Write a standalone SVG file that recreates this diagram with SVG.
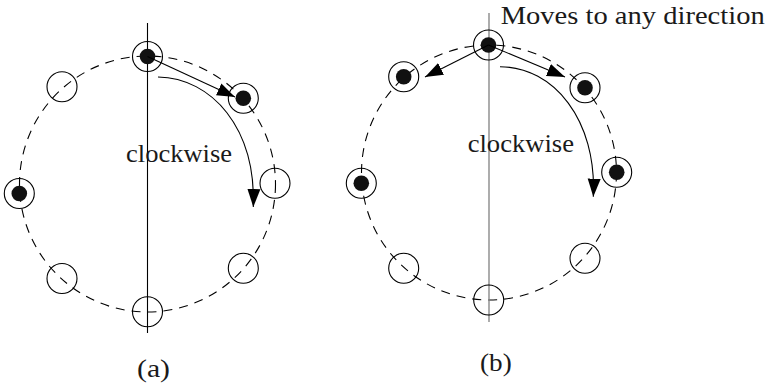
<svg xmlns="http://www.w3.org/2000/svg" width="770" height="389" viewBox="0 0 770 389">
<defs>
<style>
.ring{fill:none;stroke:#000;stroke-width:1.1}
.dot{fill:#111;stroke:none}
.track{fill:none;stroke:#000;stroke-width:1.1;stroke-dasharray:9 7}
.axis{fill:none;stroke:#000;stroke-width:1.1}
.axisb{fill:none;stroke:#808080;stroke-width:1.3}
.conn{fill:none;stroke:#000;stroke-width:1.1;marker-end:url(#ah)}
.lbl{font-family:'Liberation Serif',serif;font-size:25px;fill:#1a1a1a}
</style>
<marker id="ah" markerUnits="userSpaceOnUse" markerWidth="18" markerHeight="14" refX="18" refY="7" orient="auto">
<path d="M0,0.5 L18,7 L0,13.5 z" fill="#000"/>
</marker>
</defs>
<rect width="770" height="389" fill="#fff"/>

<!-- Diagram (a) -->
<g id="a-frame">
<circle class="track" cx="147.5" cy="184" r="128"/>
<line class="axis" x1="147.5" y1="23" x2="147.5" y2="333"/>
</g>
<g id="a-top"><circle class="ring" cx="147.5" cy="56.5" r="15"/><circle class="dot" cx="147.5" cy="56.5" r="7.8"/></g>
<g id="a-ur"><circle class="ring" cx="243.3" cy="98.3" r="15"/><circle class="dot" cx="243.3" cy="98.3" r="7.8"/></g>
<g id="a-r"><circle class="ring" cx="275" cy="183.3" r="15"/></g>
<g id="a-lr"><circle class="ring" cx="243.3" cy="268.3" r="15"/></g>
<g id="a-b"><circle class="ring" cx="147.5" cy="311.7" r="15"/></g>
<g id="a-ll"><circle class="ring" cx="62" cy="278.5" r="15"/></g>
<g id="a-l"><circle class="ring" cx="19.3" cy="193.5" r="15"/><circle class="dot" cx="19.3" cy="193.5" r="7.8"/></g>
<g id="a-ul"><circle class="ring" cx="62" cy="86.7" r="15"/></g>
<g id="a-connectors">
<line class="conn" x1="147.5" y1="56.5" x2="235" y2="97"/>
<path class="conn" d="M158,77 C212,78 256,128 253.3,207"/>
</g>
<text class="lbl" x="126" y="162" textLength="106" lengthAdjust="spacingAndGlyphs">clockwise</text>
<text class="lbl" x="137" y="377" textLength="33" lengthAdjust="spacingAndGlyphs">(a)</text>

<!-- Diagram (b) -->
<g id="b-frame">
<circle class="track" cx="489" cy="172.5" r="127.5"/>
<line class="axisb" x1="489" y1="13" x2="489" y2="322"/>
</g>
<g id="b-top"><circle class="ring" cx="488.5" cy="45" r="15"/><circle class="dot" cx="488.5" cy="45" r="7.8"/></g>
<g id="b-ul"><circle class="ring" cx="403.7" cy="76.7" r="15"/><circle class="dot" cx="403.7" cy="76.7" r="7.8"/></g>
<g id="b-ur"><circle class="ring" cx="585" cy="87.7" r="15"/><circle class="dot" cx="585" cy="87.7" r="7.8"/></g>
<g id="b-r"><circle class="ring" cx="616.7" cy="172.3" r="15"/><circle class="dot" cx="616.7" cy="172.3" r="7.8"/></g>
<g id="b-l"><circle class="ring" cx="361.3" cy="183.3" r="15"/><circle class="dot" cx="361.3" cy="183.3" r="7.8"/></g>
<g id="b-ll"><circle class="ring" cx="403.7" cy="268.3" r="15"/></g>
<g id="b-lr"><circle class="ring" cx="585" cy="258.3" r="15"/></g>
<g id="b-b"><circle class="ring" cx="488.7" cy="300" r="15"/></g>
<g id="b-connectors">
<line class="conn" x1="488.5" y1="45" x2="565" y2="77"/>
<line class="conn" x1="488.5" y1="45" x2="425" y2="77"/>
<path class="conn" d="M500,66.7 C554,67 597,120 593.3,196.7"/>
</g>
<text class="lbl" x="467.7" y="152" textLength="106.3" lengthAdjust="spacingAndGlyphs">clockwise</text>
<text class="lbl" x="500.7" y="24" textLength="264" lengthAdjust="spacingAndGlyphs">Moves to any direction</text>
<text class="lbl" x="480" y="370.5" textLength="31.7" lengthAdjust="spacingAndGlyphs">(b)</text>
</svg>
